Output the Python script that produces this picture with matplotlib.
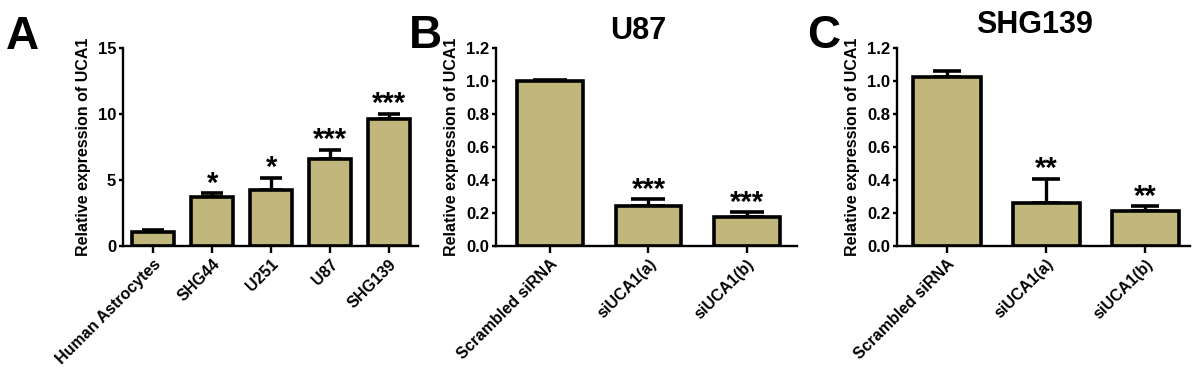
import matplotlib
matplotlib.use('Agg')
import matplotlib.pyplot as plt
import numpy as np

plt.rcParams['font.family'] = ['Liberation Sans', 'DejaVu Sans']
plt.rcParams['font.weight'] = 'bold'

# panel A: cell lines
cells = ['Human Astrocytes', 'SHG44', 'U251', 'U87', 'SHG139']
cells_mean = [1.01, 3.72, 4.2, 6.56, 9.63]
cells_err = [0.15, 0.25, 0.93, 0.73, 0.4]
cells_sig = ['', '*', '*', '***', '***']

# panel B: U87 knockdown
sirna = ['Scrambled siRNA', 'siUCA1(a)', 'siUCA1(b)']
u87_mean = [1.0, 0.241, 0.176]
u87_err = [0.006, 0.04, 0.026]
u87_sig = ['', '***', '***']

# panel C: SHG139 knockdown
shg_mean = [1.024, 0.261, 0.213]
shg_err = [0.04, 0.144, 0.026]
shg_sig = ['', '**', '**']

bar_color = '#C1B77D'


def bar_panel(ax, labels, means, errs, sig, ymax, yticks, width, capsize, yfmt):
    x = np.arange(len(labels))
    ax.bar(x, means, width=width, color=bar_color, edgecolor='black', linewidth=2.6, zorder=2)
    ax.errorbar(x, means, yerr=[np.zeros(len(errs)), errs], fmt='none', ecolor='black',
                elinewidth=2.4, capsize=capsize, capthick=2.6, zorder=1)
    for xi, m, e, s in zip(x, means, errs, sig):
        if s:
            ax.annotate(s, (xi, m + e), xytext=(0, -3), textcoords='offset points',
                        ha='center', va='bottom', fontsize=21, fontweight='bold')
    ax.set_ylim(0, ymax)
    ax.set_yticks(yticks)
    ax.set_yticklabels([yfmt.format(v) for v in yticks], fontsize=12, fontweight='bold')
    ax.set_xticks(x)
    ax.set_xticklabels(labels, rotation=45, ha='right', rotation_mode='anchor', fontsize=11.5, fontweight='bold')
    ax.set_ylabel('Relative expression of UCA1', fontsize=11.5, fontweight='bold', labelpad=5)
    for side in ['top', 'right']:
        ax.spines[side].set_visible(False)
    for side in ['left', 'bottom']:
        ax.spines[side].set_linewidth(1.7)
    ax.tick_params(axis='y', length=3, width=1.7, pad=2)
    ax.tick_params(axis='x', length=5, width=1.7, pad=3)


fig = plt.figure(figsize=(12, 3.71), dpi=100)

axA = fig.add_axes([0.1025, 0.338, 0.2458, 0.532])
bar_panel(axA, cells, cells_mean, cells_err, cells_sig, 15, [0, 5, 10, 15], 0.7, 8, '{:.0f}')
axA.set_xlim(-0.51, 4.49)

axB = fig.add_axes([0.4133, 0.338, 0.2509, 0.532])
bar_panel(axB, sirna, u87_mean, u87_err, u87_sig, 1.2, [0, 0.2, 0.4, 0.6, 0.8, 1.0, 1.2], 0.67, 12, '{:.1f}')
axB.set_xlim(-0.55, 2.51)

axC = fig.add_axes([0.7475, 0.338, 0.2442, 0.532])
bar_panel(axC, sirna, shg_mean, shg_err, shg_sig, 1.2, [0, 0.2, 0.4, 0.6, 0.8, 1.0, 1.2], 0.68, 10, '{:.1f}')
axC.set_xlim(-0.505, 2.45)

fig.text(0.005, 0.868, 'A', fontsize=33, fontweight='bold', va='baseline')
fig.text(0.341, 0.871, 'B', fontsize=33, fontweight='bold', va='baseline')
fig.text(0.673, 0.871, 'C', fontsize=33, fontweight='bold', va='baseline')

fig.text(0.532, 0.895, 'U87', fontsize=22, fontweight='bold', ha='center', va='baseline')
fig.text(0.8625, 0.911, 'SHG139', fontsize=22, fontweight='bold', ha='center', va='baseline')

fig.savefig('out.png', dpi=100)
